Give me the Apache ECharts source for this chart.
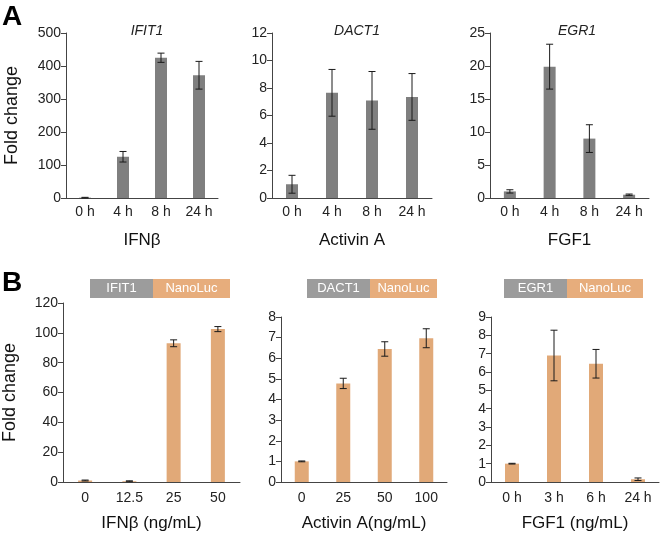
<!DOCTYPE html>
<html><head><meta charset="utf-8">
<script src="https://cdn.jsdelivr.net/npm/echarts@6/dist/echarts.min.js"></script>
<style>html,body{margin:0;padding:0;background:#fff}#c{width:661px;height:533px}</style>
</head><body><div id="c"></div>
<script>
// ---- Data ----
const catA = ['0 h','4 h','8 h','24 h'];
const ifit1Vals = [1, 125, 425, 372];
const ifit1Err  = [1, 16, 14, 42];
const dact1Vals = [1.0, 7.65, 7.1, 7.35];
const dact1Err  = [0.65, 1.7, 2.1, 1.7];
const egr1Vals  = [1.0, 19.9, 9.0, 0.5];
const egr1Err   = [0.25, 3.4, 2.1, 0.1];

const catB1 = ['0','12.5','25','50'];
const catB2 = ['0','25','50','100'];
const catB3 = ['0 h','3 h','6 h','24 h'];
const nlIfit1Vals = [1, 0.5, 93, 102.5];
const nlIfit1Err  = [0.3, 0.3, 2.3, 1.7];
const nlDact1Vals = [1.0, 4.78, 6.45, 6.97];
const nlDact1Err  = [0.02, 0.25, 0.35, 0.46];
const nlEgr1Vals  = [1.0, 6.9, 6.45, 0.15];
const nlEgr1Err   = [0.02, 1.38, 0.78, 0.07];

const FONT = 'Liberation Sans, Arial, Helvetica, sans-serif';
const GRAY = '#7f7f7f', ORANGE = '#e1a978';

const panels = [
  {grid:{left:66,top:33,width:152,height:165}, cats:catA, vals:ifit1Vals, err:ifit1Err, max:500, interval:100, color:GRAY, bw:12, xname:'IFNβ', yname:'Fold change', yGap:45, xGap:34, lblMargin:7},
  {grid:{left:272,top:33,width:160,height:165}, cats:catA, vals:dact1Vals, err:dact1Err, max:12, interval:2, color:GRAY, bw:12, xname:'Activin A', yname:'', xGap:34, lblMargin:7},
  {grid:{left:490,top:33,width:159,height:165}, cats:catA, vals:egr1Vals, err:egr1Err, max:25, interval:5, color:GRAY, bw:12, xname:'FGF1', yname:'', xGap:34, lblMargin:7},
  {grid:{left:61,top:303,width:179,height:179}, cats:catB1, vals:nlIfit1Vals, err:nlIfit1Err, max:120, interval:20, color:ORANGE, bw:14, xname:'IFNβ (ng/mL)', yname:'Fold change', yGap:44, xGap:33, lblMargin:9},
  {grid:{left:281,top:317,width:166,height:166}, cats:catB2, vals:nlDact1Vals, err:nlDact1Err, max:8, interval:1, color:ORANGE, bw:14, xname:'Activin A(ng/mL)', yname:'', xGap:33, lblMargin:9},
  {grid:{left:491,top:317,width:168,height:166}, cats:catB3, vals:nlEgr1Vals, err:nlEgr1Err, max:9, interval:1, color:ORANGE, bw:14, xname:'FGF1 (ng/mL)', yname:'', xGap:33, lblMargin:9}
];

const grids=[], xAxes=[], yAxes=[], series=[];
panels.forEach((p,i)=>{
  grids.push(p.grid);
  xAxes.push({type:'category', gridIndex:i, data:p.cats,
    axisLine:{lineStyle:{color:'#444',width:1}}, axisTick:{show:false},
    axisLabel:{color:'#222', fontSize:14, fontFamily:FONT, margin:p.lblMargin},
    name:p.xname, nameLocation:'middle', nameGap:p.xGap,
    nameTextStyle:{color:'#111', fontSize:17, fontFamily:FONT}});
  yAxes.push({type:'value', gridIndex:i, min:0, max:p.max, interval:p.interval,
    splitLine:{show:false},
    axisLine:{show:true, lineStyle:{color:'#444',width:1}},
    axisTick:{show:true, length:5, lineStyle:{color:'#444'}},
    axisLabel:{color:'#222', fontSize:14, fontFamily:FONT, margin:5},
    name:p.yname, nameLocation:'middle', nameGap:p.yGap||40,
    nameTextStyle:{color:'#111', fontSize:18, fontFamily:FONT}});
  series.push({type:'bar', xAxisIndex:i, yAxisIndex:i, data:p.vals, barWidth:p.bw,
    itemStyle:{color:p.color}, silent:true});
  series.push({type:'custom', xAxisIndex:i, yAxisIndex:i, z:5,
    data:p.vals.map((v,k)=>[k,v,p.err[k]]),
    encode:{x:0,y:1},
    renderItem:function(params, api){
      const x=api.value(0), y=api.value(1), e=api.value(2);
      const hi=api.coord([x,y+e]), lo=api.coord([x,y-e]);
      const w=3.5, st={stroke:'#1a1a1a', lineWidth:1};
      return {type:'group', children:[
        {type:'line', shape:{x1:hi[0],y1:hi[1],x2:lo[0],y2:lo[1]}, style:st},
        {type:'line', shape:{x1:hi[0]-w,y1:hi[1],x2:hi[0]+w,y2:hi[1]}, style:st},
        {type:'line', shape:{x1:lo[0]-w,y1:lo[1],x2:lo[0]+w,y2:lo[1]}, style:st}
      ]};
    }});
});

function header(x0, xm, x1, y, h, gene){
  return [
    {type:'rect', shape:{x:x0,y:y,width:xm-x0,height:h}, style:{fill:'#9c9c9c'}},
    {type:'rect', shape:{x:xm,y:y,width:x1-xm,height:h}, style:{fill:'#e7ad7c'}},
    {type:'text', x:(x0+xm)/2, y:y+h/2, style:{text:gene, fill:'#fff', font:'13px '+FONT, textAlign:'center', textVerticalAlign:'middle'}},
    {type:'text', x:(xm+x1)/2, y:y+h/2, style:{text:'NanoLuc', fill:'#fff', font:'13px '+FONT, textAlign:'center', textVerticalAlign:'middle'}}
  ];
}

const graphics = [
  {type:'text', left:2, top:3, style:{text:'A', fill:'#000', font:'bold 28px '+FONT}},
  {type:'text', left:2, top:269, style:{text:'B', fill:'#000', font:'bold 28px '+FONT}},
  ...header(90,153,230,279,19,'IFIT1'),
  ...header(307,370,437,279,19,'DACT1'),
  ...header(504,567,643,279,19,'EGR1')
];

const titles = [
  {text:'IFIT1', left:142, top:19},
  {text:'DACT1', left:352, top:19},
  {text:'EGR1', left:572, top:19}
].map(t=>({text:t.text, left:t.left, top:t.top, textAlign:'center',
  textStyle:{fontSize:14, fontStyle:'italic', fontWeight:'normal', color:'#222', fontFamily:FONT}}));

const chart = echarts.init(document.getElementById('c'), null, {renderer:'canvas'});
chart.setOption({
  animation:false,
  backgroundColor:'#fff',
  title:titles,
  grid:grids, xAxis:xAxes, yAxis:yAxes, series:series,
  graphic:graphics
});
</script></body></html>
